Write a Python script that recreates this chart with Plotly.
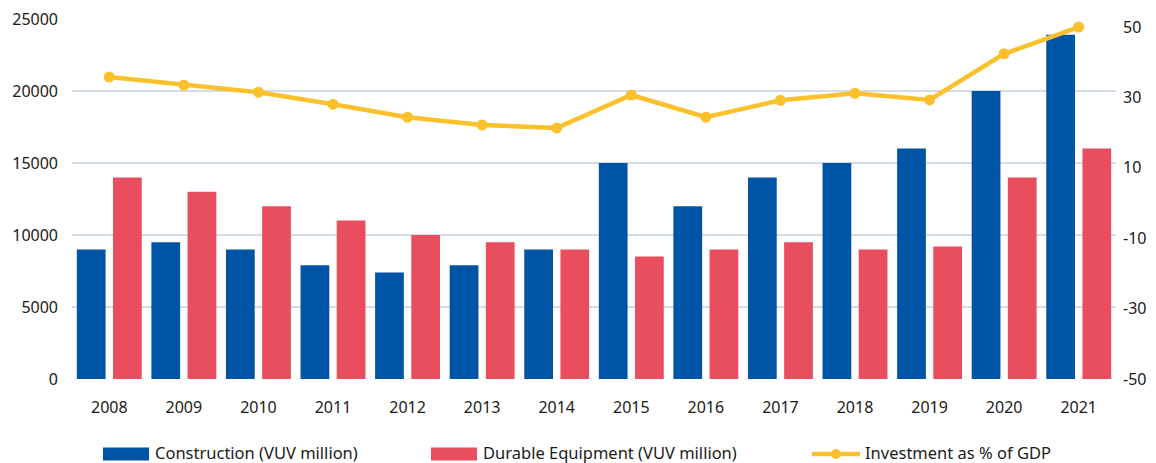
import plotly.graph_objects as go

# Data
years = ["2008", "2009", "2010", "2011", "2012", "2013", "2014",
         "2015", "2016", "2017", "2018", "2019", "2020", "2021"]
construction = [9000, 9500, 9000, 7900, 7400, 7900, 9000,
                15000, 12000, 14000, 15000, 16000, 20000, 23900]
durable_equipment = [14000, 13000, 12000, 11000, 10000, 9500, 9000,
                     8500, 9000, 9500, 9000, 9200, 14000, 16000]
investment_pct_gdp = [35.8, 33.5, 31.5, 28.1, 24.4, 22.2, 21.3,
                      30.7, 24.4, 29.2, 31.2, 29.3, 42.4, 50.0]

left_ticks = [0, 5000, 10000, 15000, 20000, 25000]
left_ticktext = ["0", "5000", "10000", "15000", "20000", "25000"]
right_ticks = [-50, -30, -10, 10, 30, 50]
right_ticktext = ["-50", "-30", "-10", "10", "30", "50"]

series_names = ["Construction (VUV million)",
                "Durable Equipment (VUV million)",
                "Investment as % of GDP"]

BLUE = "#0054a6"
RED = "#e94e5f"
YELLOW = "#fbc12c"
GRID = "#d3dce8"
TEXT = "#1a1a1a"
FONT = "Noto Sans"
TICK_SIZE = 16
LEGEND_SIZE = 16.5

fig = go.Figure()
fig.add_trace(go.Bar(x=years, y=construction, name=series_names[0],
                     marker=dict(color=BLUE, line=dict(width=0))))
fig.add_trace(go.Bar(x=years, y=durable_equipment, name=series_names[1],
                     marker=dict(color=RED, line=dict(width=0))))
fig.add_trace(go.Scatter(x=years, y=investment_pct_gdp, name=series_names[2],
                         yaxis="y2", mode="lines+markers",
                         line=dict(color=YELLOW, width=4.5),
                         marker=dict(color=YELLOW, size=11)))

# Plot area geometry (pixels) used to place the custom legend
L, R, T, B = 72, 40, 19, 84
W, H = 1156, 463
pw, ph = W - L - R, H - T - B


def px_x(x):
    return (x - L) / pw


def px_y(y):
    return (H - B - y) / ph


shapes = []
annotations = []
legend_y = 454
for (x0, x1, color, label_x, name) in [
        (103, 149, BLUE, 153, series_names[0]),
        (431, 477, RED, 481, series_names[1])]:
    shapes.append(dict(type="rect", xref="paper", yref="paper",
                       x0=px_x(x0), x1=px_x(x1),
                       y0=px_y(legend_y + 6.5), y1=px_y(legend_y - 6.5),
                       fillcolor=color, line=dict(width=0)))
    annotations.append(dict(xref="paper", yref="paper", x=px_x(label_x),
                            y=px_y(legend_y - 2), xanchor="left",
                            yanchor="middle", showarrow=False, text=name,
                            font=dict(family=FONT, size=LEGEND_SIZE,
                                      color=TEXT)))

shapes.append(dict(type="line", xref="paper", yref="paper",
                   x0=px_x(812), x1=px_x(860),
                   y0=px_y(legend_y), y1=px_y(legend_y),
                   line=dict(color=YELLOW, width=4.5)))
shapes.append(dict(type="circle", xref="paper", yref="paper",
                   x0=px_x(831), x1=px_x(841),
                   y0=px_y(legend_y + 5), y1=px_y(legend_y - 5),
                   fillcolor=YELLOW, line=dict(width=0)))
annotations.append(dict(xref="paper", yref="paper", x=px_x(863),
                        y=px_y(legend_y - 2), xanchor="left",
                        yanchor="middle", showarrow=False,
                        text=series_names[2],
                        font=dict(family=FONT, size=LEGEND_SIZE, color=TEXT)))

tick_font = dict(family=FONT, size=TICK_SIZE, color=TEXT)

fig.update_layout(
    width=W, height=H,
    margin=dict(l=L, r=R, t=T, b=B, pad=0, autoexpand=False),
    paper_bgcolor="white", plot_bgcolor="white",
    font=dict(family=FONT, size=TICK_SIZE, color=TEXT),
    showlegend=False,
    barmode="group", bargap=0.03, bargroupgap=0.205,
    xaxis=dict(type="category", range=[-0.5, len(years) - 0.5],
               showgrid=False, zeroline=False,
               showline=False, ticks="", ticklabelstandoff=17,
               automargin=False, tickfont=tick_font),
    yaxis=dict(range=[0, 25000], tickvals=left_ticks, ticktext=left_ticktext,
               showgrid=True, gridcolor=GRID, gridwidth=2, zeroline=False,
               showline=False, ticks="", ticklabelstandoff=13,
               automargin=False, tickfont=tick_font),
    yaxis2=dict(overlaying="y", side="right", range=[-50, 52.3],
                tickvals=right_ticks, ticktext=right_ticktext,
                showgrid=False, zeroline=False, showline=False, ticks="",
                ticklabelstandoff=6, automargin=False, tickfont=tick_font),
    shapes=shapes,
    annotations=annotations,
)

fig.write_html("out.html")
